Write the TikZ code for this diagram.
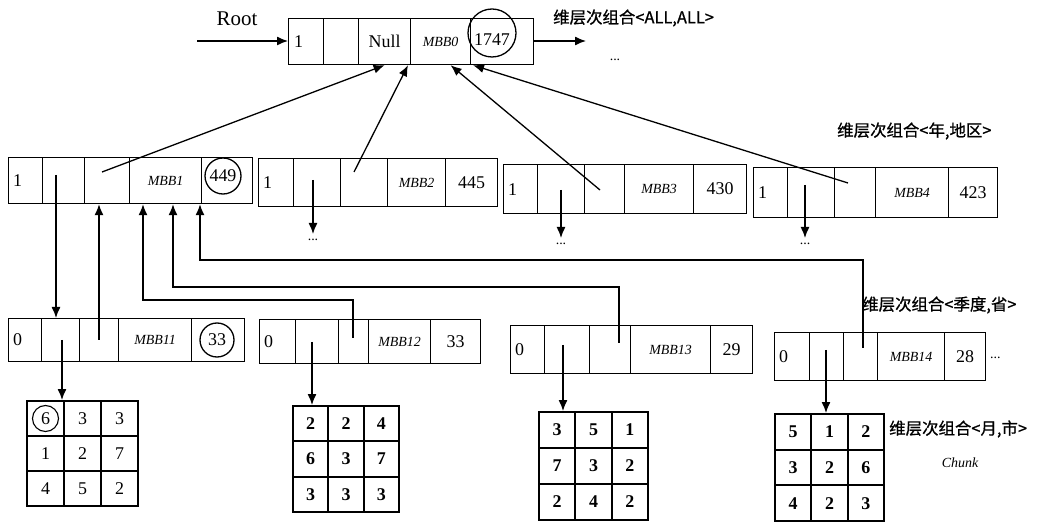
\documentclass[tikz,border=0pt]{standalone}
\usepackage{fontspec}
\setmainfont{Liberation Serif}
\newfontfamily\cjk{Noto Sans CJK SC}[FakeBold=0.8]
\usetikzlibrary{arrows.meta,calc}
\tikzset{
  cellbox/.style={draw, line width=1.2bp, inner sep=0pt},
  gcell/.style={draw, line width=2bp, inner sep=0pt, font=\fontsize{18}{18}\selectfont},
  numtxt/.style={inner sep=0pt, font=\fontsize{18}{18}\selectfont},
  mbbtxt/.style={inner sep=0pt, font=\fontsize{14}{14}\selectfont\itshape},
  lbl/.style={inner sep=0pt, font=\cjk\fontsize{16.5}{16.5}\selectfont},
  ring/.style={draw, circle, line width=1.3bp, inner sep=0pt},
  dots/.style={inner sep=0pt, font=\fontsize{14}{14}\selectfont},
  arr/.style={-{Latex[length=11bp,width=9bp]}, line width=1.3bp},
}
\newcommand\mkrecord[4]{%
  \foreach \l/\r [count=\i] in {#4} {
    \node[cellbox, anchor=north west, minimum width={(\r-\l)*1bp},
          minimum height={(#3-#2)*1bp}] (#1-\i) at (\l,#2) {};
  }}
\newcommand\mkgrid[7]{%
  \foreach \d [count=\k] in {#6} {
    \pgfmathtruncatemacro\row{div(\k-1,3)}
    \pgfmathtruncatemacro\col{mod(\k-1,3)}
    \node[gcell, anchor=north west, minimum width={(#4-#2)/3*1bp},
          minimum height={(#5-#3)/3*1bp}, font=\fontsize{18}{18}\selectfont#7]
      (#1-\k) at ({#2+\col*(#4-#2)/3},{#3+\row*(#5-#3)/3}) {\d};
  }}
\begin{document}
\begin{tikzpicture}[x=1bp,y=-1bp]
\useasboundingbox (0,0) rectangle (1048,522);

% ---------- root record ----------
\mkrecord{r0}{18}{64}{288/323,323/358,358/410,410/470,470/533}
\node[numtxt, anchor=west] (r0a) at ([xshift=6bp]r0-1.west) {1};
\node[numtxt] (r0c) at (r0-3) {Null};
\node[mbbtxt] (r0d) at (r0-4) {MBB0};
\node[ring, minimum width=48bp] (r0ring) at (492,33) {};
\node[numtxt] (r0e) at (492,40) {1747};
\node[inner sep=0pt, font=\fontsize{21}{21}\selectfont] (root) at (237,19) {Root};
\coordinate (rootin) at (197,41);
\draw[arr] (rootin) -- (rootin -| r0-1.west);
\coordinate (r0out) at (586,41);
\draw[arr] (r0out -| r0-5.east) -- (r0out);
\node[dots] (r0dots) at (615,60) {...};
\node[lbl, anchor=west] (lall) at (553,18) {维层次组合<ALL,ALL>};

% ---------- level 1 ----------
\mkrecord{r1}{157}{203}{8/42,42/84,84/129,129/201,201/252}
\mkrecord{r2}{158}{206}{258/293,293/340,340/387,387/445,445/497}
\mkrecord{r3}{164}{213}{503/537,537/584,584/624,624/693,693/746}
\mkrecord{r4}{167}{217}{753/787,787/834,834/875,875/948,948/997}
\foreach \r/\m in {r1/MBB1,r2/MBB2,r3/MBB3,r4/MBB4}{
  \node[numtxt, anchor=west] (\r a) at ([xshift=5bp]\r-1.west) {1};
  \node[mbbtxt] (\r d) at (\r-4) {\m};
}
\node[ring, minimum size=36bp] (r1ring) at (223,176) {};
\node[numtxt] (r1e) at (r1ring) {449};
\foreach \r/\n in {r2/445,r3/430,r4/423}{
  \node[numtxt] (\r e) at (\r-5) {\n};
}
\node[lbl, anchor=west] (lyear) at (837,131) {维层次组合<年,地区>};

% pointers up to root
\coordinate (r1p) at (102,172);
\coordinate (r2p) at (354,172);
\coordinate (r3p) at (600,190);
\coordinate (r4p) at (848,183);
\draw[arr] (r1p) -- (r0-3.south);
\draw[arr] (r2p) -- ([xshift=-2bp]r0-4.south west);
\draw[arr] (r3p) -- ([xshift=10bp]r0-4.south);
\draw[arr] (r4p) -- ([xshift=3bp]r0-5.south west);

% children of r2,r3,r4 (elided)
\coordinate (r2c) at (313,180);
\coordinate (r3c) at (561,190);
\coordinate (r4c) at (805,185);
\node[dots] (r2dots) at (313,240) {...};
\node[dots] (r3dots) at (561,244) {...};
\node[dots] (r4dots) at (805,244) {...};
\draw[arr] (r2c) -- ([yshift=5bp]r2dots.north);
\draw[arr] (r3c) -- ([yshift=5bp]r3dots.north);
\draw[arr] (r4c) -- ([yshift=5bp]r4dots.north);

% ---------- level 2 ----------
\mkrecord{r11}{318}{361}{8/41,41/79,79/118,118/191,191/244}
\mkrecord{r12}{319}{363}{259/295,295/338,338/368,368/430,430/480}
\mkrecord{r13}{325}{373}{510/544,544/589,589/630,630/710,710/752}
\mkrecord{r14}{332}{380}{774/809,809/843,843/877,877/944,944/985}
\foreach \r/\m in {r11/MBB11,r12/MBB12,r13/MBB13,r14/MBB14}{
  \node[numtxt, anchor=west] (\r a) at ([xshift=5bp]\r-1.west) {0};
  \node[mbbtxt] (\r d) at (\r-4) {\m};
}
\node[ring, minimum size=34bp] (r11ring) at (217,340) {};
\node[numtxt] (r11e) at (r11ring) {33};
\foreach \r/\n in {r12/33,r13/29,r14/28}{
  \node[numtxt] (\r e) at (\r-5) {\n};
}
\node[dots, anchor=west] (r14dots) at (990,358) {...};
\node[lbl, anchor=west] (lseason) at (862,305) {维层次组合<季度,省>};

% level1 <-> level2 pointers
\coordinate (r1s2) at (56,175);
\draw[arr] (r1s2) -- (r1s2 |- r11-2.north);
\coordinate (r11s3) at (99,340);
\draw[arr] (r11s3) -- (r11s3 |- r1-3.south);
\coordinate (r12s3) at (353,338);
\coordinate (k12) at (143,300);
\draw[arr] (r12s3) |- (k12) -- (k12 |- r1-4.south);
\coordinate (r13s3) at (619,343);
\coordinate (k13) at (173,287);
\draw[arr] (r13s3) |- (k13) -- (k13 |- r1-4.south);
\coordinate (r14s3) at (863,348);
\coordinate (k14) at (200,260);
\draw[arr] (r14s3) |- (k14) -- (k14 |- r1-4.south);

% ---------- chunks ----------
\mkgrid{g1}{26}{400}{137}{505}{6,3,3,1,2,7,4,5,2}{}
\mkgrid{g2}{292}{405}{398}{511}{2,2,4,6,3,7,3,3,3}{\bfseries}
\mkgrid{g3}{538}{411}{647}{519}{3,5,1,7,3,2,2,4,2}{\bfseries}
\mkgrid{g4}{774}{413}{883}{520}{5,1,2,3,2,6,4,2,3}{\bfseries}
\node[ring, minimum size=26bp, line width=1.1bp] (g1ring) at (g1-1) {};
\coordinate (r11s2) at (62,340);
\draw[arr] (r11s2) -- (r11s2 |- g1-1.north);
\coordinate (r12s2) at (312,342);
\draw[arr] (r12s2) -- (r12s2 |- g2-1.north);
\coordinate (r13s2) at (563,345);
\draw[arr] (r13s2) -- (r13s2 |- g3-1.north);
\coordinate (r14s2) at (826,350);
\draw[arr] (r14s2) -- (r14s2 |- g4-1.north);

\node[lbl, anchor=west] (lmonth) at (889,429) {维层次组合<月,市>};
\node[inner sep=0pt, font=\fontsize{14}{14}\selectfont\itshape] (chunk) at (960,463) {Chunk};
\end{tikzpicture}
\end{document}
